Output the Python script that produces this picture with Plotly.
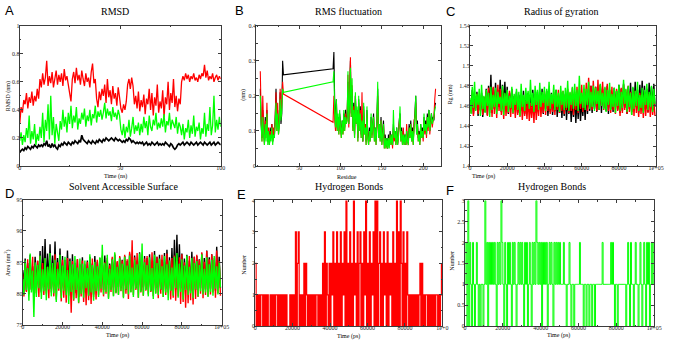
import numpy as np
import plotly.graph_objects as go

W, H = 673, 344

# ---------------- Panel A: RMSD (nm) vs time (ns) ----------------
rmsd_red = [
 0.30,0.42,0.38,0.47,0.44,0.52,0.41,0.49,0.45,0.53,0.43,0.50,0.46,0.55,0.48,
 0.62,0.56,0.66,0.58,0.63,0.75,0.57,0.64,0.59,0.67,0.56,0.62,0.68,0.58,0.65,
 0.60,0.66,0.57,0.69,0.61,0.64,0.58,0.52,0.46,0.62,0.67,0.59,0.70,0.61,0.65,
 0.58,0.68,0.62,0.57,0.66,0.60,0.63,0.56,0.67,0.73,0.59,0.62,0.48,0.42,0.53,
 0.47,0.55,0.50,0.58,0.45,0.62,0.49,0.54,0.44,0.57,0.48,0.52,0.43,0.56,0.49,
 0.41,0.38,0.44,0.40,0.46,0.58,0.62,0.55,0.63,0.57,0.44,0.50,0.41,0.53,0.39,
 0.47,0.42,0.51,0.37,0.48,0.44,0.55,0.40,0.52,0.36,0.49,0.43,0.58,0.38,0.46,
 0.41,0.54,0.35,0.49,0.44,0.60,0.40,0.52,0.45,0.62,0.42,0.50,0.39,0.48,0.44,
 0.60,0.64,0.61,0.66,0.62,0.65,0.60,0.64,0.62,0.66,0.61,0.63,0.60,0.65,0.62,
 0.66,0.64,0.72,0.63,0.68,0.61,0.64,0.62,0.66,0.60,0.63,0.65,0.61,0.64,0.62]
rmsd_green = [
 0.18,0.24,0.15,0.22,0.17,0.27,0.20,0.36,0.16,0.25,0.19,0.30,0.15,0.23,0.18,
 0.28,0.20,0.38,0.17,0.33,0.25,0.44,0.19,0.50,0.22,0.35,0.16,0.30,0.24,0.18,
 0.32,0.26,0.40,0.28,0.35,0.24,0.38,0.30,0.43,0.27,0.36,0.31,0.42,0.26,0.34,
 0.30,0.38,0.33,0.41,0.28,0.36,0.32,0.40,0.29,0.37,0.34,0.43,0.31,0.39,0.35,
 0.40,0.33,0.38,0.45,0.34,0.41,0.36,0.39,0.32,0.42,0.35,0.38,0.33,0.40,0.36,
 0.26,0.22,0.30,0.20,0.28,0.24,0.33,0.21,0.27,0.35,0.23,0.29,0.25,0.31,0.22,
 0.30,0.24,0.35,0.27,0.32,0.22,0.36,0.28,0.25,0.33,0.29,0.38,0.26,0.31,0.27,
 0.34,0.28,0.37,0.24,0.32,0.29,0.38,0.26,0.33,0.30,0.27,0.35,0.23,0.31,0.28,
 0.22,0.30,0.19,0.27,0.24,0.33,0.20,0.29,0.23,0.36,0.21,0.28,0.25,0.31,0.19,
 0.27,0.23,0.38,0.21,0.30,0.25,0.42,0.22,0.29,0.50,0.24,0.33,0.26,0.35,0.28]
rmsd_black = [
 0.10,0.11,0.12,0.11,0.13,0.12,0.14,0.13,0.12,0.14,0.13,0.15,0.14,0.13,0.15,
 0.14,0.15,0.14,0.16,0.15,0.18,0.14,0.15,0.13,0.16,0.14,0.15,0.13,0.12,0.15,
 0.14,0.16,0.15,0.17,0.16,0.15,0.17,0.16,0.15,0.17,0.16,0.18,0.17,0.16,0.18,
 0.17,0.22,0.19,0.18,0.17,0.16,0.18,0.17,0.16,0.18,0.17,0.16,0.18,0.17,0.19,
 0.18,0.17,0.19,0.18,0.20,0.19,0.18,0.19,0.20,0.19,0.18,0.20,0.19,0.18,0.19,
 0.18,0.17,0.18,0.17,0.19,0.18,0.20,0.19,0.17,0.18,0.17,0.16,0.17,0.16,0.17,
 0.16,0.17,0.15,0.16,0.17,0.15,0.16,0.15,0.17,0.16,0.15,0.16,0.17,0.15,0.16,
 0.15,0.16,0.15,0.17,0.16,0.15,0.14,0.16,0.15,0.13,0.12,0.13,0.15,0.16,0.15,
 0.16,0.17,0.15,0.16,0.17,0.16,0.15,0.17,0.16,0.15,0.16,0.17,0.15,0.16,0.17,
 0.16,0.15,0.17,0.16,0.15,0.16,0.17,0.15,0.16,0.17,0.15,0.16,0.17,0.16,0.15]

# ---------------- Panel B: RMSF (nm) vs residue ----------------
rmsf_residues = list(range(3, 32)) + list(range(91, 216))
rmsf_black_n = [0.22,0.12,0.08,0.16,0.10,0.07,0.14,0.09,0.16,0.07,0.10,0.06,0.11,0.08,0.12,
                0.07,0.10,0.08,0.14,0.22,0.12,0.16,0.10,0.13,0.21,0.12,0.15,0.30,0.26]
rmsf_red_n = [0.27,0.15,0.07,0.20,0.11,0.06,0.13,0.08,0.18,0.07,0.11,0.06,0.10,0.08,0.12,
              0.07,0.11,0.09,0.13,0.21,0.10,0.18,0.09,0.12,0.22,0.14,0.19,0.24,0.205]
rmsf_green_n = [0.20,0.12,0.07,0.14,0.09,0.06,0.12,0.07,0.15,0.06,0.10,0.06,0.09,0.07,0.11,
                0.06,0.09,0.08,0.12,0.18,0.10,0.15,0.09,0.11,0.19,0.13,0.16,0.22,0.21]
rmsf_black_c = [
 0.277,0.325,0.18,0.12,0.19,0.11,0.14,0.10,0.15,0.12,
 0.09,0.13,0.10,0.15,0.11,0.16,0.13,0.14,0.24,0.12,
 0.20,0.30,0.15,0.22,0.11,0.18,0.09,0.20,0.13,0.16,
 0.08,0.19,0.11,0.17,0.09,0.14,0.07,0.17,0.10,0.12,
 0.07,0.16,0.09,0.07,0.11,0.08,0.14,0.09,0.12,0.15,
 0.08,0.11,0.07,0.13,0.22,0.09,0.12,0.08,0.14,0.07,
 0.10,0.13,0.06,0.09,0.06,0.08,0.05,0.09,0.06,0.10,
 0.07,0.09,0.06,0.12,0.08,0.10,0.07,0.11,0.06,0.09,
 0.13,0.15,0.08,0.11,0.06,0.10,0.07,0.09,0.06,0.10,
 0.08,0.07,0.12,0.09,0.13,0.08,0.11,0.07,0.12,0.15,
 0.20,0.10,0.13,0.08,0.10,0.07,0.12,0.09,0.11,0.08,
 0.14,0.10,0.13,0.09,0.15,0.11,0.16,0.10,0.13,0.15,
 0.12,0.14,0.13,0.17,0.18]
rmsf_red_c = [
 0.125,0.20,0.13,0.10,0.17,0.10,0.13,0.09,0.14,0.11,
 0.08,0.12,0.09,0.14,0.10,0.15,0.12,0.13,0.26,0.11,
 0.21,0.31,0.14,0.23,0.10,0.17,0.08,0.20,0.12,0.15,
 0.07,0.18,0.10,0.16,0.08,0.21,0.07,0.16,0.09,0.12,
 0.06,0.15,0.08,0.06,0.10,0.07,0.13,0.08,0.11,0.14,
 0.07,0.10,0.06,0.12,0.20,0.08,0.11,0.07,0.13,0.06,
 0.09,0.12,0.05,0.08,0.05,0.07,0.05,0.08,0.06,0.09,
 0.06,0.08,0.05,0.11,0.07,0.09,0.06,0.10,0.06,0.08,
 0.12,0.14,0.07,0.10,0.06,0.11,0.06,0.08,0.06,0.12,
 0.07,0.06,0.11,0.08,0.12,0.07,0.10,0.06,0.13,0.14,
 0.18,0.09,0.12,0.07,0.09,0.06,0.11,0.08,0.10,0.07,
 0.13,0.09,0.12,0.08,0.14,0.10,0.15,0.09,0.12,0.14,
 0.11,0.13,0.14,0.19,0.22]
rmsf_green_c = [
 0.24,0.27,0.15,0.11,0.19,0.10,0.15,0.09,0.16,0.11,
 0.08,0.13,0.09,0.16,0.10,0.14,0.12,0.13,0.27,0.12,
 0.19,0.28,0.14,0.25,0.10,0.16,0.08,0.21,0.12,0.17,
 0.07,0.20,0.10,0.15,0.08,0.13,0.07,0.18,0.09,0.11,
 0.06,0.17,0.08,0.06,0.10,0.07,0.15,0.08,0.12,0.14,
 0.07,0.11,0.06,0.13,0.24,0.08,0.12,0.07,0.13,0.06,
 0.09,0.12,0.05,0.08,0.05,0.08,0.05,0.08,0.05,0.09,
 0.06,0.09,0.06,0.16,0.08,0.10,0.06,0.11,0.06,0.08,
 0.12,0.17,0.07,0.10,0.06,0.09,0.06,0.09,0.06,0.10,
 0.07,0.06,0.11,0.08,0.12,0.07,0.10,0.06,0.11,0.14,
 0.20,0.09,0.12,0.07,0.09,0.06,0.12,0.08,0.10,0.08,
 0.15,0.10,0.12,0.09,0.14,0.11,0.16,0.10,0.12,0.15,
 0.12,0.13,0.14,0.16,0.17]

# ---------------- Panel C: radius of gyration (nm) ----------------
rg_black = [
 1.466,1.455,1.476,1.452,1.470,1.458,1.474,1.450,1.468,1.456,
 1.473,1.449,1.469,1.454,1.477,1.451,1.480,1.456,1.491,1.453,
 1.478,1.457,1.483,1.455,1.476,1.459,1.486,1.454,1.481,1.458,
 1.484,1.456,1.479,1.452,1.473,1.457,1.477,1.455,1.470,1.460,
 1.474,1.453,1.471,1.458,1.468,1.455,1.475,1.452,1.470,1.457,
 1.473,1.454,1.469,1.459,1.476,1.456,1.471,1.453,1.474,1.458,
 1.470,1.455,1.477,1.452,1.472,1.457,1.475,1.450,1.469,1.454,
 1.473,1.451,1.468,1.455,1.476,1.449,1.470,1.453,1.474,1.448,
 1.469,1.450,1.472,1.446,1.467,1.452,1.470,1.444,1.466,1.449,
 1.471,1.443,1.468,1.447,1.473,1.445,1.465,1.450,1.470,1.446,
 1.474,1.452,1.477,1.455,1.480,1.453,1.476,1.457,1.479,1.454,
 1.475,1.456,1.481,1.453,1.477,1.458,1.474,1.455,1.480,1.452,
 1.476,1.457,1.473,1.454,1.478,1.459,1.475,1.456,1.481,1.453,
 1.477,1.455,1.482,1.458,1.474,1.452,1.479,1.457,1.483,1.454,
 1.478,1.456,1.484,1.459,1.476,1.453,1.481,1.457,1.485,1.455,
 1.480,1.458,1.477,1.454,1.483,1.460,1.479,1.456,1.482,1.459]
rg_red = [
 1.463,1.453,1.470,1.450,1.466,1.456,1.472,1.452,1.467,1.455,
 1.471,1.451,1.468,1.454,1.475,1.450,1.478,1.453,1.473,1.449,
 1.479,1.452,1.476,1.448,1.481,1.455,1.477,1.451,1.474,1.447,
 1.472,1.450,1.468,1.453,1.475,1.449,1.470,1.452,1.466,1.448,
 1.469,1.451,1.464,1.449,1.471,1.446,1.467,1.450,1.465,1.447,
 1.468,1.445,1.463,1.448,1.466,1.443,1.470,1.446,1.465,1.450,
 1.472,1.449,1.468,1.453,1.475,1.451,1.470,1.455,1.473,1.452,
 1.469,1.454,1.474,1.451,1.471,1.456,1.476,1.453,1.472,1.455,
 1.475,1.452,1.471,1.456,1.477,1.453,1.473,1.455,1.478,1.451,
 1.474,1.456,1.479,1.453,1.476,1.457,1.481,1.454,1.477,1.458,
 1.483,1.455,1.488,1.458,1.480,1.456,1.485,1.459,1.479,1.455,
 1.486,1.457,1.481,1.460,1.484,1.456,1.478,1.458,1.482,1.455,
 1.476,1.453,1.479,1.456,1.473,1.452,1.477,1.455,1.471,1.450,
 1.478,1.453,1.481,1.456,1.476,1.452,1.480,1.454,1.474,1.451,
 1.472,1.450,1.475,1.453,1.469,1.449,1.473,1.452,1.468,1.448,
 1.471,1.450,1.467,1.453,1.472,1.449,1.469,1.451,1.466,1.450]
rg_green = [
 1.468,1.452,1.479,1.458,1.484,1.455,1.472,1.461,1.477,1.450,
 1.481,1.457,1.470,1.453,1.476,1.460,1.473,1.449,1.479,1.456,
 1.471,1.459,1.478,1.452,1.474,1.462,1.469,1.455,1.480,1.451,
 1.473,1.460,1.476,1.454,1.470,1.458,1.479,1.453,1.472,1.461,
 1.477,1.456,1.474,1.450,1.482,1.459,1.471,1.455,1.478,1.462,
 1.475,1.457,1.486,1.460,1.473,1.454,1.480,1.461,1.476,1.456,
 1.483,1.459,1.474,1.463,1.479,1.455,1.477,1.460,1.484,1.457,
 1.472,1.462,1.481,1.456,1.476,1.459,1.473,1.454,1.480,1.461,
 1.475,1.456,1.478,1.458,1.485,1.455,1.474,1.461,1.479,1.457,
 1.482,1.460,1.476,1.455,1.490,1.462,1.473,1.458,1.481,1.456,
 1.477,1.461,1.484,1.457,1.474,1.459,1.480,1.455,1.478,1.462,
 1.475,1.456,1.482,1.460,1.473,1.457,1.479,1.454,1.476,1.461,
 1.483,1.456,1.472,1.459,1.478,1.453,1.475,1.460,1.481,1.455,
 1.474,1.458,1.486,1.462,1.477,1.454,1.480,1.459,1.473,1.451,
 1.479,1.457,1.475,1.460,1.484,1.455,1.471,1.458,1.478,1.453,
 1.476,1.461,1.482,1.456,1.474,1.459,1.480,1.454,1.477,1.462]

# ---------------- Panel D: solvent accessible surface (nm^2) ----------------
sasa_black = [
 83.8,81.0,85.6,80.4,84.9,81.3,86.2,80.7,84.4,79.6,
 85.9,80.9,85.2,81.4,86.8,80.2,87.6,81.1,88.7,80.5,
 86.4,81.6,87.9,80.8,86.1,81.2,88.3,80.6,85.7,81.5,
 87.2,80.3,86.0,81.0,85.4,80.4,86.9,81.3,85.6,79.8,
 86.3,80.7,84.9,80.1,85.5,79.5,84.7,80.6,85.8,80.2,
 84.6,80.9,85.3,79.7,85.9,80.4,84.8,79.9,86.0,81.1,
 85.1,80.5,85.7,81.2,84.9,80.6,86.1,80.8,85.3,81.4,
 84.8,80.7,85.6,81.0,86.2,80.3,85.0,81.1,85.8,80.9,
 85.4,81.3,86.0,80.6,85.2,81.5,86.4,80.8,85.6,81.2,
 86.1,80.9,85.3,81.4,86.6,80.5,85.5,81.0,86.0,80.7,
 85.7,81.3,86.3,80.4,85.1,81.6,86.8,80.9,85.9,81.1,
 86.2,80.6,85.4,81.2,86.5,80.8,87.0,81.4,85.8,80.5,
 87.3,81.0,88.6,80.7,89.4,81.3,87.9,80.9,86.4,81.5,
 85.6,80.8,86.2,81.1,85.3,80.4,86.7,81.2,85.9,80.6,
 86.0,81.3,85.5,80.9,86.4,81.0,85.7,80.7,86.9,81.4,
 85.8,80.8,86.3,81.1,85.4,80.5,87.5,81.2,85.9,80.9]
sasa_red = [
 83.1,79.6,84.8,80.3,85.5,79.9,84.2,80.6,85.9,79.2,
 84.6,80.1,85.3,79.5,86.0,80.4,84.9,79.8,85.6,80.0,
 84.3,79.3,85.8,80.2,84.7,79.6,86.3,79.1,85.0,80.5,
 84.5,78.8,85.4,79.4,84.1,78.6,85.7,79.7,84.4,77.0,
 85.2,78.9,84.6,79.3,85.5,78.5,84.0,79.6,85.3,78.7,
 84.8,78.2,85.1,79.0,84.3,78.4,85.6,79.5,84.7,79.1,
 85.4,79.8,84.9,80.2,86.1,79.6,85.0,80.0,85.7,79.4,
 84.6,80.3,85.9,79.7,86.4,80.1,85.2,79.9,86.0,80.4,
 85.3,79.5,86.2,80.0,85.5,79.2,86.7,80.3,88.5,79.8,
 85.8,80.6,86.5,79.4,85.1,80.2,86.3,79.7,85.6,80.5,
 86.0,79.9,85.4,80.3,86.6,79.6,85.2,80.1,85.9,79.3,
 85.5,80.0,86.2,79.5,85.0,79.8,86.4,80.2,85.3,79.1,
 85.7,79.4,86.1,78.9,85.2,79.6,85.8,78.4,86.3,78.7,
 85.0,77.8,85.6,78.5,86.0,79.0,85.3,78.3,85.9,79.2,
 86.2,79.5,85.4,80.0,86.6,79.3,85.1,79.8,86.8,79.6,
 85.5,79.9,86.3,80.2,85.7,79.4,86.9,80.1,85.2,79.7]
sasa_green = [
 82.5,79.8,85.3,80.6,84.1,78.9,86.4,80.2,83.7,76.3,
 85.0,79.5,84.6,80.9,86.1,79.2,83.9,80.4,85.7,79.0,
 84.3,80.7,86.5,79.6,84.9,80.1,85.4,78.7,84.0,80.8,
 86.2,79.3,84.5,80.5,85.9,79.8,83.8,78.4,85.2,80.3,
 84.7,79.1,86.0,80.6,84.2,78.6,85.6,80.0,84.8,79.4,
 85.3,80.9,84.1,79.7,86.3,80.2,84.6,78.9,85.1,80.4,
 84.4,79.5,85.8,80.8,87.8,79.9,84.9,80.3,86.2,79.2,
 84.0,80.6,85.5,79.6,86.6,80.1,84.3,79.8,85.7,80.5,
 84.8,79.3,85.9,80.7,84.5,79.9,86.1,80.2,84.2,79.5,
 85.4,80.8,84.7,79.4,86.4,80.3,88.0,79.7,85.0,80.6,
 84.6,79.6,85.8,80.4,84.1,79.2,86.2,80.0,84.9,79.8,
 85.6,80.7,84.4,79.5,86.0,80.2,84.7,79.0,85.3,80.5,
 84.2,79.7,85.9,80.9,86.5,79.4,84.8,80.3,85.5,79.1,
 84.5,80.6,86.1,79.8,84.3,80.1,85.7,79.3,84.9,80.7,
 85.2,79.6,84.6,80.4,86.3,79.9,84.0,80.2,85.8,79.5,
 84.7,80.3,85.4,79.7,86.0,80.8,84.4,79.9,85.1,81.0]

# ---------------- Panel E / F: hydrogen bond counts ----------------
hb_red = [
 2,0,1,0,1,0,1,1,0,1, 0,1,0,1,0,0,1,0,1,0, 1,0,1,1,0,1,0,1,0,1, 0,1,0,1,0,0,0,1,0,1,
 0,1,0,3,0,2,3,0,1,0, 1,0,2,0,2,1,0,1,0,1, 0,1,0,1,0,1,1,0,1,0, 1,0,2,0,3,0,2,1,0,2,
 0,2,1,3,0,2,0,3,0,2, 0,3,0,2,1,3,0,4,0,2, 0,3,0,2,0,4,1,2,0,3, 0,2,3,0,2,0,3,1,4,0,
 2,0,3,0,2,1,3,0,4,0, 4,0,2,3,0,2,0,3,1,2, 0,3,0,2,1,2,0,3,0,2, 0,4,0,3,0,4,2,0,3,0,
 2,0,3,1,0,1,0,1,0,1, 0,1,0,1,0,1,2,0,2,0, 1,0,1,1,0,1,0,1,0,1, 0,1,0,1,1,0,1,0,1,2]
hb_green = [
 1,2,0,3,0,2,1,0,2,1, 0,1,2,1,0,1,0,1,1,0, 1,3,1,2,0,2,1,2,1,2, 1,2,1,0,2,1,2,1,3,2,
 1,0,2,1,0,2,1,2,1,0, 2,1,2,1,0,1,2,1,2,1, 2,1,0,2,1,2,0,1,2,1, 0,2,1,2,1,3,2,1,2,1,
 2,0,2,1,2,1,2,0,1,2, 1,2,1,0,2,1,2,1,2,1, 2,1,1,1,2,1,1,0,1,1, 2,1,0,1,1,0,1,1,1,1,
 1,2,1,1,1,0,1,1,0,1, 1,0,1,1,0,1,1,0,1,1, 1,1,1,1,1,2,1,1,1,1, 1,1,1,1,2,1,2,1,0,1,
 1,0,1,1,1,1,1,1,1,1, 0,1,2,1,0,2,1,1,0,1, 2,1,1,0,1,2,1,0,1,2, 1,0,2,1,2,0,1,2,1,2]

# tick labels
ps_ticks = [0, 20000, 40000, 60000, 80000, 100000]
ps_ticktext = ["0", "20000", "40000", "60000", "80000", "1e+05"]
ps_ticktext_e = ["0", "20000", "40000", "60000", "80000", "1e+0"]

# time grids (sampling of the trajectories)
t_ns = np.linspace(0, 100, len(rmsd_red))
t_ps_c = np.arange(len(rg_green)) * 625
t_ps_d = np.arange(len(sasa_green)) * 625
t_ps_hb = np.arange(len(hb_red)) * 500
rmsf_black = rmsf_black_n + rmsf_black_c
rmsf_red = rmsf_red_n + rmsf_red_c
rmsf_green = rmsf_green_n + rmsf_green_c

BLACK, RED, GREEN = "#000000", "#ff0000", "#00ff00"
SERIF = "Liberation Serif"
SANS = "Liberation Sans"
AX = "#3c3c3c"

fig = go.Figure()

def add(x, y, color, k, width=1.0, shape="linear"):
    fig.add_trace(go.Scatter(x=x, y=y, mode="lines",
                             line=dict(color=color, width=width, shape=shape, simplify=False),
                             xaxis="x" + ("" if k == 1 else str(k)),
                             yaxis="y" + ("" if k == 1 else str(k)),
                             showlegend=False, hoverinfo="skip"))

add(t_ns, rmsd_black, BLACK, 1, 1.7)
add(t_ns, rmsd_red, RED, 1, 1.3)
add(t_ns, rmsd_green, GREEN, 1, 1.3)
add(rmsf_residues, rmsf_black, BLACK, 2, 1.1)
add(rmsf_residues, rmsf_red, RED, 2, 1.1)
add(rmsf_residues, rmsf_green, GREEN, 2, 1.1)
add(t_ps_c, rg_black, BLACK, 3, 1.4)
add(t_ps_c, rg_red, RED, 3, 1.4)
add(t_ps_c, rg_green, GREEN, 3, 1.4)
add(t_ps_d, sasa_black, BLACK, 4, 1.4)
add(t_ps_d, sasa_red, RED, 4, 1.4)
add(t_ps_d, sasa_green, GREEN, 4, 1.4)
add(t_ps_hb, hb_red, RED, 5, 1.2, "hv")
add(t_ps_hb, hb_green, GREEN, 6, 1.0, "hv")

def axis(px0, px1, rng, tickvals, ticktext=None, minor_dtick=None, anchor=None, vertical=False):
    if vertical:
        dom = [1 - px1 / H, 1 - px0 / H]
    else:
        dom = [px0 / W, px1 / W]
    d = dict(domain=dom, range=rng, showline=True, linecolor=AX, linewidth=1, mirror="allticks",
             ticks="inside", ticklen=3, tickwidth=1, tickcolor=AX, showgrid=False, zeroline=False,
             tickvals=tickvals, tickfont=dict(family=SERIF, size=6, color="#222"), anchor=anchor,
             fixedrange=True, ticklabelstandoff=(-2 if vertical else -4))
    if ticktext is not None:
        d["ticktext"] = ticktext
    if minor_dtick is not None:
        d["minor"] = dict(ticks="inside", ticklen=1.5, tickcolor=AX, dtick=minor_dtick, showgrid=False)
    return d

layout = dict(width=W, height=H, margin=dict(l=0, r=0, t=0, b=0), paper_bgcolor="white",
              plot_bgcolor="white", showlegend=False)
# Panel A
layout["xaxis"] = axis(18, 222, [0, 100], [0, 50, 100], None, 25, "y")
layout["yaxis"] = axis(23, 166, [0, 1], [0, 0.2, 0.4, 0.6, 0.8, 1], ["0", "0.2", "0.4", "0.6", "0.8", "1"], 0.1, "x", True)
# Panel B
layout["xaxis2"] = axis(258, 446, [-2, 222], [50, 100, 150, 200], None, 25, "y2")
layout["yaxis2"] = axis(23, 166, [0, 0.4], [0, 0.1, 0.2, 0.3, 0.4], ["0", "0.1", "0.2", "0.3", "0.4"], 0.05, "x2", True)
# Panel C
layout["xaxis3"] = axis(475, 664, [0, 100000], ps_ticks, ps_ticktext, 10000, "y3")
layout["yaxis3"] = axis(23, 166, [1.4, 1.54], [1.4, 1.42, 1.44, 1.46, 1.48, 1.5, 1.52, 1.54],
                        ["1.4", "1.42", "1.44", "1.46", "1.48", "1.5", "1.52", "1.54"], 0.01, "x3", True)
# Panel D
layout["xaxis4"] = axis(21, 223, [0, 100000], ps_ticks, ps_ticktext, 10000, "y4")
layout["yaxis4"] = axis(200, 328, [75, 95], [75, 80, 85, 90, 95], None, 2.5, "x4", True)
# Panel E
layout["xaxis5"] = axis(257, 447, [0, 100000], ps_ticks, ps_ticktext_e, 10000, "y5")
layout["yaxis5"] = axis(201, 329, [0, 4], [0, 1, 2, 3, 4], None, 0.5, "x5", True)
# Panel F
layout["xaxis6"] = axis(470, 662, [0, 100000], ps_ticks, ps_ticktext, 10000, "y6")
layout["yaxis6"] = axis(201, 329, [0, 3], [0, 0.5, 1, 1.5, 2, 2.5, 3], ["0", "0.5", "1", "1.5", "2", "2.5", "3"], 0.25, "x6", True)
fig.update_layout(**layout)

def ann(text, px, py, size, family=SERIF, angle=0):
    fig.add_annotation(text=text, x=px / W, y=1 - py / H, xref="paper", yref="paper", showarrow=False,
                       font=dict(family=family, size=size, color="black"), textangle=angle,
                       xanchor="center", yanchor="middle")

# panel letters
for letter, px, py in [("A", 8, 8), ("B", 241, 8), ("C", 455, 9), ("D", 8, 194), ("E", 243, 195), ("F", 455, 191)]:
    ann(letter, px, py, 13, SANS)
# titles
ann("RMSD", 115, 9, 10)
ann("RMS fluctuation", 352, 9, 10)
ann("Radius of gyration", 567, 9, 10)
ann("Solvent Accessible Surface", 123, 187, 10)
ann("Hydrogen Bonds", 352, 187, 10)
ann("Hydrogen Bonds", 558, 187, 10)
# axis titles
ann("Time (ns)", 115, 177, 6)
ann("Residue", 350, 177, 6)
ann("Time (ps)", 489, 177, 6)
ann("Time (ps)", 117, 338, 6)
ann("Time (ps)", 352, 339, 6)
ann("Time (ps)", 565, 338, 6)
ann("RMSD (nm)", 6, 95, 6, angle=-90)
ann("(nm)", 245, 93, 6, angle=-90)
ann("Rg (nm)", 455, 93, 6, angle=-90)
ann("Area (nm<sup>2</sup>)", 6, 264, 6, angle=-90)
ann("Number", 246, 266, 6, angle=-90)
ann("Number", 457, 262, 6, angle=-90)

fig.write_html("out.html")
